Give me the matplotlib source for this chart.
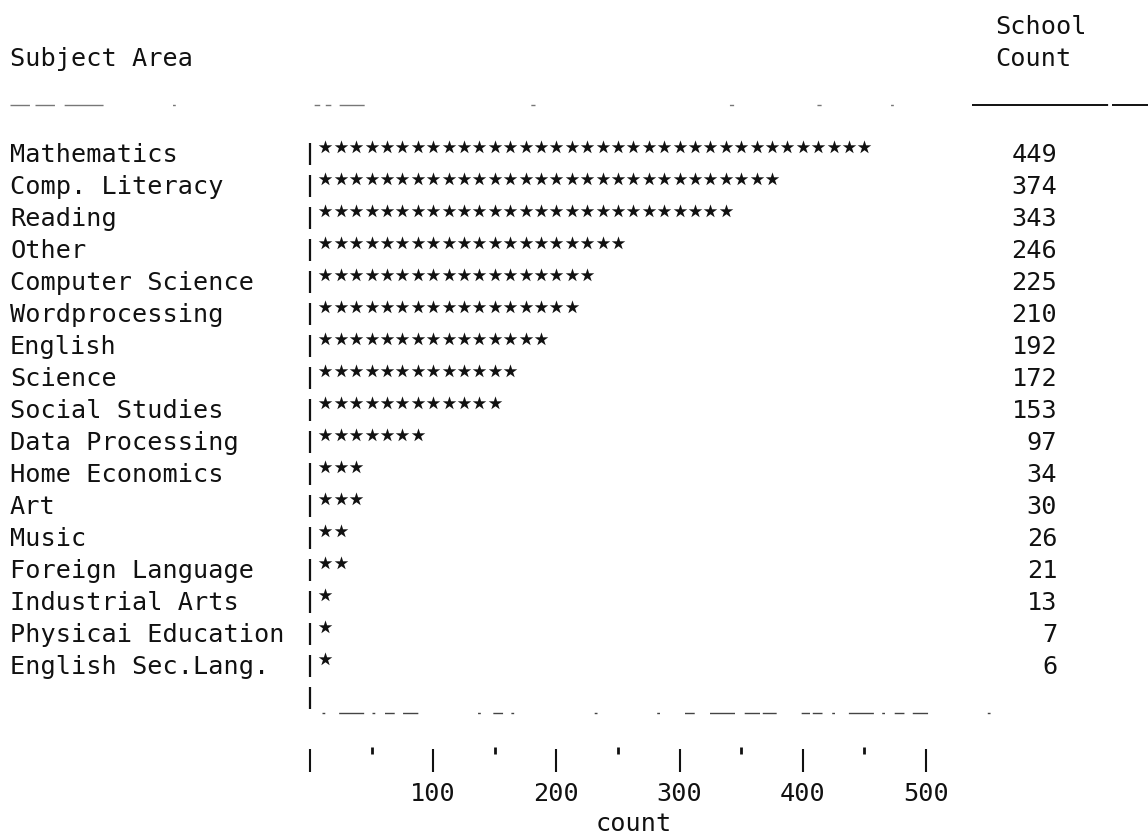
import matplotlib
matplotlib.use('Agg')
import matplotlib.pyplot as plt

# Data
subjects = ['Mathematics', 'Comp. Literacy', 'Reading', 'Other', 'Computer Science',
            'Wordprocessing', 'English', 'Science', 'Social Studies', 'Data Processing',
            'Home Economics', 'Art', 'Music', 'Foreign Language', 'Industrial Arts',
            'Physicai Education', 'English Sec.Lang.']
school_counts = [449, 374, 343, 246, 225, 210, 192, 172, 153, 97, 34, 30, 26, 21, 13, 7, 6]
# number of asterisks typed on each row (one star is about 12.5 schools)
star_counts = [36, 30, 27, 20, 18, 17, 15, 13, 12, 7, 3, 3, 2, 2, 1, 1, 1]
star_unit = 12.5
major_ticks = [0, 100, 200, 300, 400, 500]
minor_ticks = [50, 150, 250, 350, 450]
tick_labels = ['', '100', '200', '300', '400', '500']

# typewriter grid (pixels)
W, H = 1148, 838
CHAR_W = 15.4
LINE_H = 32
X0 = 10
Y0 = 25
BAR_PX = 310
scale = CHAR_W / star_unit          # pixels per count unit
ink = '#111111'
mono = 'DejaVu Sans Mono'
fs = 18.2


def col(c):
    # left edge of character column c, in data units
    return (X0 + c * CHAR_W - BAR_PX) / scale


def px(x):
    return (x - BAR_PX) / scale


fig = plt.figure(figsize=(W / 100, H / 100), dpi=100)
ax = fig.add_axes([0, 0, 1, 1])
ax.set_xlim(px(0), px(W))
ax.set_ylim((H - Y0) / LINE_H, -Y0 / LINE_H)
ax.axis('off')

base = 0.29  # baseline offset below line centre


def put(x, line, s, ha='left'):
    ax.text(x, line + base, s, ha=ha, va='baseline', family=mono,
            fontsize=fs, color=ink)


# headers
put(col(64), 0, 'School')
put(col(0), 1, 'Subject Area')
put(col(64), 1, 'Count')

# header rule: faint broken line, solid under the count column
ax.plot([px(10), px(905)], [2.5, 2.5], color='#777777', lw=1.0,
        linestyle=(0, (14, 4, 14, 7, 28, 50, 2, 100, 4, 4, 4, 6, 18, 120, 3, 140, 3, 60, 3, 50, 2, 60)))
ax.plot([px(972), px(W)], [2.5, 2.5], color=ink, lw=1.4,
        linestyle=(0, (70, 2, 20, 3, 5, 2, 60)))

first = 4
for i, (name, n, v) in enumerate(zip(subjects, star_counts, school_counts)):
    line = first + i
    put(col(0), line, name)
    put(col(68), line, str(v), ha='right')
    ax.vlines(0, line - 0.31, line + 0.37, color=ink, lw=1.6)
    xs = [star_unit * (k + 1) for k in range(n)]
    ax.scatter(xs, [line - 0.18] * n, marker='*', s=105, color=ink, linewidths=0)

# bar continues one more line below the last row
last = first + len(subjects)
ax.vlines(0, last - 0.31, last + 0.37, color=ink, lw=1.6)

# faint broken baseline
ax.plot([px(322), px(1000)], [last + 0.5, last + 0.5], color='#444444', lw=1.0,
        linestyle=(0, (2, 10, 18, 6, 2, 7, 7, 6, 11, 43, 2, 9, 7, 6, 2, 58, 2, 43, 2, 18, 7, 11, 18, 7, 11)))

# count axis
tick_line = last + 2
ax.vlines(major_ticks, tick_line - 0.36, tick_line + 0.33, color=ink, lw=1.5)
ax.vlines(minor_ticks, tick_line - 0.45, tick_line - 0.21, color=ink, lw=2.0)
for t, lab in zip(major_ticks, tick_labels):
    if lab:
        put(t, tick_line + 0.95, lab, ha='center')
put(262.5, tick_line + 1.9, 'count', ha='center')

fig.savefig('out.png', dpi=100, facecolor='white')
